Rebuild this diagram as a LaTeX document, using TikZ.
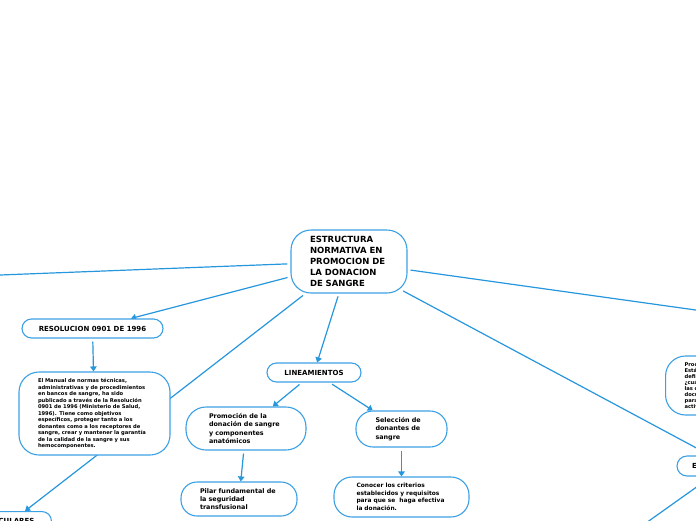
\documentclass[tikz,border=0pt]{standalone}
\usepackage{fontspec}
\setmainfont{DejaVu Sans}
\usetikzlibrary{arrows.meta,backgrounds}
\definecolor{lineblue}{RGB}{38,150,221}
\definecolor{boxblue}{RGB}{60,160,228}
\newcommand{\fs}[2]{\fontsize{#1}{#2}\selectfont\bfseries}
\begin{document}
\begin{tikzpicture}[x=1pt,y=-1pt,
  box/.style={draw=boxblue, line width=1.1pt, fill=white, inner ysep=0pt, text=black},
  conn/.style={draw=lineblue, line width=1.2pt, shorten <=3pt},
  arr/.style={conn, -{Triangle[length=5pt,width=6.5pt]}}]
\useasboundingbox (0,0) rectangle (696,520);
\clip (0,0) rectangle (696,520);

% nodes
\node[box, rounded corners=20pt, text width=78pt, inner xsep=19pt, minimum height=63pt, align=left, font=\fs{8.5}{11}] (c) at (349,261.5)
  {ESTRUCTURA\\NORMATIVA EN\\PROMOCION DE\\LA DONACION\\DE SANGRE};

\node[box, rounded corners=9.5pt, minimum width=141pt, minimum height=19pt, font=\fs{7}{8}] (res) at (92.5,328.5)
  {RESOLUCION 0901 DE 1996};

\node[box, rounded corners=20pt, text width=113pt, inner xsep=19pt, minimum height=83pt, align=left, font=\fs{5.2}{6.5}] (man) at (94.5,413.5)
  {El Manual de normas técnicas,\\administrativas y de procedimientos\\en bancos de sangre, ha sido\\publicado a través de la Resolución\\0901 de 1996 (Ministerio de Salud,\\1996). Tiene como objetivos\\específicos, proteger tanto a los\\donantes como a los receptores de\\sangre, crear y mantener la garantía\\de la calidad de la sangre y sus\\hemocomponentes.};

\node[box, rounded corners=9.5pt, minimum width=94pt, minimum height=19pt, font=\fs{7}{8}] (lin) at (314,372.5)
  {LINEAMIENTOS};

\node[box, rounded corners=20pt, text width=74pt, inner xsep=23pt, minimum height=43pt, align=left, font=\fs{6.4}{8.1}] (prom) at (246,428.5)
  {Promoción de la\\donación de sangre\\y componentes\\anatómicos};

\node[box, rounded corners=16pt, text width=78pt, inner xsep=19pt, minimum height=34pt, align=left, font=\fs{6.4}{7.7}] (pil) at (239,499)
  {Pilar fundamental de\\la seguridad\\transfusional};

\node[box, rounded corners=17pt, text width=52pt, inner xsep=19.5pt, minimum height=36pt, align=left, font=\fs{6.4}{8.3}] (sel) at (401.5,429)
  {Selección de\\donantes de\\sangre};

\node[box, rounded corners=18pt, text width=90pt, inner xsep=22.5pt, minimum height=40pt, align=left, font=\fs{5.9}{7.5}] (con) at (401.5,497)
  {Conocer los criterios\\establecidos y requisitos\\para que se\ \ haga efectiva\\la donación.};

\node[box, anchor=west, rounded corners=20pt, text width=60pt, inner xsep=19pt, minimum height=59pt, align=left, font=\fs{5.2}{6.1}] (rn) at (665,385.5)
  {Proc\\Está\\defin\\¿cuál\\las c\\docu\\para\\activ};

\node[box, rounded corners=10pt, text width=76pt, inner xsep=15pt, minimum height=20pt, align=left, font=\fs{7}{8}] (en) at (730,466)
  {E};

\node[box, anchor=north east, rounded corners=9.5pt, text width=80pt, inner xsep=17pt, minimum height=19pt, align=right, font=\fs{7}{8}] (cul) at (52,511)
  {CULARES};

\coordinate (lft) at (-5,275.2);
\coordinate (rgt) at (700,310.6);
\coordinate (ebot) at (634.7,531);

% connectors
\begin{scope}[on background layer]
\clip (0,0) rectangle (696,520);
\draw[conn] (c) -- (lft);
\draw[arr] (c) -- (res);
\draw[arr] ([xshift=15pt]c.south west) -- ([xshift=-27pt]cul.north east);
\draw[arr] (res) -- (man);
\draw[arr] (c) -- (lin);
\draw[arr] (lin) -- (prom);
\draw[arr] (lin) -- (sel);
\draw[arr] (prom) -- (pil);
\draw[arr] (sel) -- (con);
\draw[conn] (c) -- (rgt);
\draw[arr] ([shift={(-7pt,4pt)}]c.south east) -- (en);
\draw[conn] ([xshift=-18.7pt]en.south) -- (ebot);
\end{scope}
\end{tikzpicture}
\end{document}
